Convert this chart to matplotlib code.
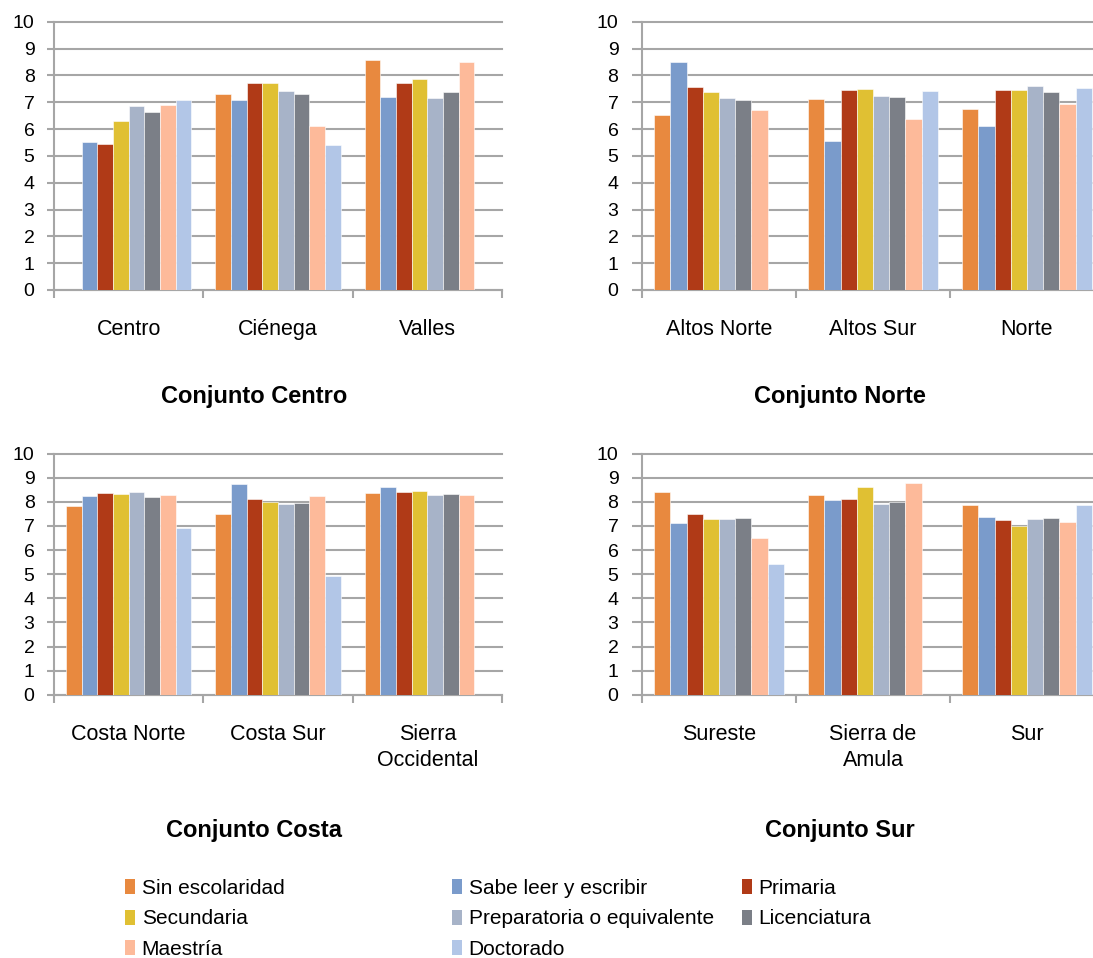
import matplotlib
matplotlib.use("Agg")
import matplotlib.pyplot as plt
from matplotlib.patches import Patch
import numpy as np

plt.rcParams['font.family'] = ['Liberation Sans', 'DejaVu Sans']

nan = np.nan

# Niveles de escolaridad (series)
niveles = ['Sin escolaridad', 'Sabe leer y escribir', 'Primaria', 'Secundaria',
           'Preparatoria o equivalente', 'Licenciatura', 'Maestría', 'Doctorado']
colores = ['#E8893F', '#7A9BCB', '#B03A17', '#E0C033',
           '#A7B3C8', '#7B7F87', '#FDBA9A', '#B2C6E7']

# Conjunto Centro
centro_regiones = ['Centro', 'Ciénega', 'Valles']
centro_valores = [
    [nan, 5.53, 5.45, 6.29, 6.87, 6.64, 6.91, 7.09],
    [7.31, 7.09, 7.73, 7.71, 7.43, 7.31, 6.13, 5.39],
    [8.58, 7.20, 7.72, 7.86, 7.16, 7.37, 8.49, nan],
]

# Conjunto Norte
norte_regiones = ['Altos Norte', 'Altos Sur', 'Norte']
norte_valores = [
    [6.54, 8.48, 7.56, 7.37, 7.14, 7.10, 6.70, nan],
    [7.11, 5.54, 7.46, 7.48, 7.24, 7.19, 6.38, 7.41],
    [6.74, 6.11, 7.47, 7.46, 7.60, 7.37, 6.95, 7.53],
]

# Conjunto Costa
costa_regiones = ['Costa Norte', 'Costa Sur', 'Sierra\nOccidental']
costa_valores = [
    [7.83, 8.24, 8.37, 8.33, 8.41, 8.19, 8.27, 6.92],
    [7.51, 8.73, 8.12, 8.01, 7.93, 7.94, 8.26, 4.94],
    [8.35, 8.60, 8.40, 8.46, 8.30, 8.34, 8.27, nan],
]

# Conjunto Sur
sur_regiones = ['Sureste', 'Sierra de\nAmula', 'Sur']
sur_valores = [
    [8.41, 7.12, 7.50, 7.28, 7.30, 7.33, 6.49, 5.41],
    [8.28, 8.06, 8.10, 8.60, 7.93, 8.01, 8.80, nan],
    [7.86, 7.37, 7.25, 7.01, 7.28, 7.33, 7.15, 7.87],
]

W, H = 1093, 958
fig = plt.figure(figsize=(W / 100, H / 100), dpi=100)

GRIS = '#A6A6A6'
BAR_W = 0.105


def px_rect(x0, x1, y_top, y_bot):
    return [x0 / W, 1 - y_bot / H, (x1 - x0) / W, (y_bot - y_top) / H]


def panel(rect, regiones, valores, titulo, tx, ty, ypad, ylen, xpad):
    ax = fig.add_axes(rect)
    n = len(regiones)
    vals = np.array(valores)
    for j, nivel in enumerate(niveles):
        xs = np.arange(n) + 0.08 + BAR_W * (j + 0.5)
        ax.bar(xs, vals[:, j], width=BAR_W, color=colores[j],
               edgecolor='white', linewidth=0.4, zorder=3)
    ax.set_xlim(0, n)
    ax.set_ylim(0, 10)
    ax.set_yticks(range(0, 11))
    ax.grid(axis='y', color=GRIS, linewidth=1.5, zorder=0)
    for gl in ax.get_ygridlines():
        gl.set_clip_on(False)
    for s in ['top', 'right']:
        ax.spines[s].set_visible(False)
    for s in ['left', 'bottom']:
        ax.spines[s].set_color(GRIS)
        ax.spines[s].set_linewidth(1.5)
    ax.tick_params(axis='y', direction='out', length=ylen, width=1.5, color=GRIS,
                   labelsize=14, pad=ypad)
    ax.set_xticks(range(0, n + 1))
    ax.set_xticklabels([])
    ax.tick_params(axis='x', which='major', direction='out', length=6,
                   width=1.5, color=GRIS)
    ax.set_xticks(np.arange(n) + 0.5, minor=True)
    ax.set_xticklabels(regiones, minor=True, fontsize=15.5, linespacing=1.3)
    ax.tick_params(axis='x', which='minor', length=0, pad=xpad)
    fig.text(tx / W, 1 - ty / H, titulo, ha='center', va='center',
             fontsize=17, fontweight='bold')
    return ax


panel(px_rect(54, 502, 21.7, 290), centro_regiones, centro_valores,
      'Conjunto Centro', 254, 397, 9, 5, 21)
panel(px_rect(642, 1104, 21.7, 290), norte_regiones, norte_valores,
      'Conjunto Norte', 840, 397, 10, 7, 21)
panel(px_rect(54, 502, 453.7, 694.7), costa_regiones, costa_valores,
      'Conjunto Costa', 254, 830, 9, 5, 21)
panel(px_rect(642, 1104, 453.7, 694.7), sur_regiones, sur_valores,
      'Conjunto Sur', 840, 830, 10, 7, 21)

# Leyenda en tres columnas
handles = [Patch(facecolor=c, edgecolor='none') for c in colores]
columnas = [[0, 3, 6], [1, 4, 7], [2, 5]]
col_x = [125, 452, 742]
for idx, x in zip(columnas, col_x):
    fig.legend([handles[i] for i in idx], [niveles[i] for i in idx],
               loc='upper left', bbox_to_anchor=(x / W, 1 - 879 / H),
               frameon=False, fontsize=15, handlelength=0.5,
               handleheight=0.75, handletextpad=0.3, labelspacing=0.55,
               borderpad=0, borderaxespad=0)

fig.savefig('out.png', dpi=100)
